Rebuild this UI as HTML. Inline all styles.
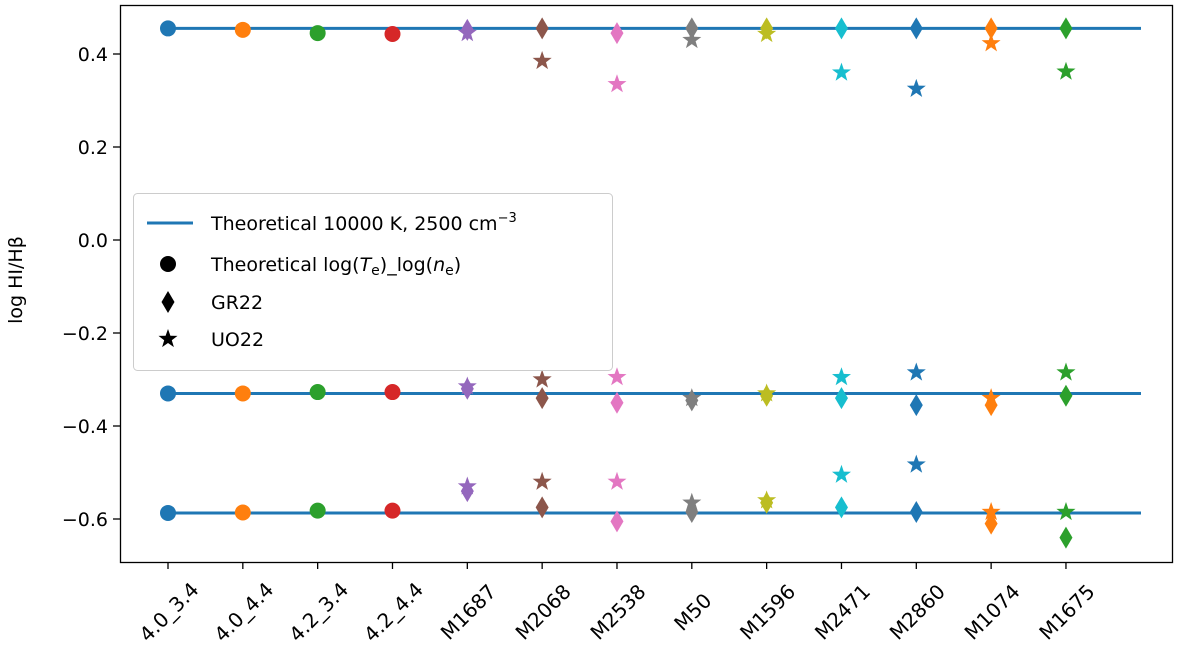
<!DOCTYPE html>
<html><head><meta charset="utf-8"><style>
body{margin:0;background:#fff;}
svg{display:block;font-family:"DejaVu Sans","Liberation Sans",sans-serif;}
</style></head><body>
<svg id="chart" width="1200" height="665"></svg>
<script>
const categories=["4.0_3.4","4.0_4.4","4.2_3.4","4.2_4.4","M1687","M2068","M2538","M50","M1596","M2471","M2860","M1074","M1675"];
const theoryLines=[0.455,-0.33,-0.587];
const circlesTop=[0.455,0.452,0.445,0.443];
const circlesMid=[-0.33,-0.33,-0.327,-0.327];
const circlesBot=[-0.587,-0.586,-0.582,-0.582];
const gr22Top=[0.452,0.455,0.445,0.455,0.455,0.455,0.455,0.455,0.455];
const gr22Mid=[-0.32,-0.34,-0.35,-0.345,-0.335,-0.34,-0.355,-0.355,-0.335];
const gr22Bot=[-0.54,-0.575,-0.605,-0.585,-0.565,-0.575,-0.585,-0.61,-0.64];
const uo22Top=[0.445,0.385,0.335,0.43,0.443,0.36,0.325,0.423,0.362];
const uo22Mid=[-0.315,-0.30,-0.295,-0.34,-0.33,-0.295,-0.285,-0.34,-0.285];
const uo22Bot=[-0.53,-0.52,-0.52,-0.565,-0.56,-0.505,-0.483,-0.585,-0.585];
const yTicks=[0.4,0.2,0.0,-0.2,-0.4,-0.6];
const colors=["#1f77b4","#ff7f0e","#2ca02c","#d62728","#9467bd","#8c564b","#e377c2","#7f7f7f","#bcbd22","#17becf","#1f77b4","#ff7f0e","#2ca02c"];
const NS="http://www.w3.org/2000/svg";
const svg=document.getElementById('chart');
const X=i=>168+i*74.83;
const Y=v=>240-v*465;
function mk(tag,attrs,parent){const e=document.createElementNS(NS,tag);for(const k in attrs)e.setAttribute(k,attrs[k]);(parent||svg).appendChild(e);return e;}
function starPts(cx,cy,r){let p=[];for(let k=0;k<10;k++){const rr=k%2?r*0.4:r;const a=-Math.PI/2+k*Math.PI/5;p.push((cx+rr*Math.cos(a)).toFixed(1)+","+(cy+rr*Math.sin(a)).toFixed(1));}return p.join(" ");}
function diaPts(cx,cy){return `${cx},${cy-11} ${cx+6.5},${cy} ${cx},${cy+11} ${cx-6.5},${cy}`;}
const frame=mk('rect',{x:120.5,y:5.5,width:1052,height:557,fill:'none',stroke:'#000','stroke-width':1.3});


yTicks.forEach(t=>{
  const l=mk('line',{x1:113,x2:120,y1:Y(t),y2:Y(t),stroke:'#000','stroke-width':1.3});
  
  
  const tx=mk('text',{x:108,y:Y(t)+7,'text-anchor':'end','font-size':19});
  tx.textContent=(t<0?"\u2212":"")+Math.abs(t).toFixed(1);
  
  
});
categories.forEach((c,i)=>{
  const l=mk('line',{x1:X(i),x2:X(i),y1:562,y2:569,stroke:'#000','stroke-width':1.3});
  
  
  const cx=X(i)+1, cy=612;
  const tx=mk('text',{x:cx,y:cy+7,'text-anchor':'middle','font-size':20,transform:`rotate(-45 ${cx} ${cy})`});
  tx.textContent=c;
  
  
});
const yl=mk('text',{x:22,y:280,'text-anchor':'middle','font-size':19,transform:'rotate(-90 22 280)'});
yl.textContent="log HI/H\u03b2";


theoryLines.forEach(v=>{
  const l=mk('line',{x1:X(0),x2:1141,y1:Y(v),y2:Y(v),stroke:'#1f77b4','stroke-width':3});
  
  
});
[circlesTop,circlesMid,circlesBot].forEach(arr=>arr.forEach((v,i)=>{
  const c=mk('circle',{cx:X(i),cy:Y(v),r:8,fill:colors[i]});
  
  
}));
[gr22Top,gr22Mid,gr22Bot].forEach(arr=>arr.forEach((v,j)=>{
  const i=j+4;
  const d=mk('polygon',{points:diaPts(X(i),Y(v)),fill:colors[i]});
  
  
}));
[uo22Top,uo22Mid,uo22Bot].forEach(arr=>arr.forEach((v,j)=>{
  const i=j+4;
  const s=mk('polygon',{points:starPts(X(i),Y(v),10),fill:colors[i]});
  
  
}));
const lg=mk('g',{});


mk('rect',{x:133.5,y:193.5,width:479,height:177,rx:4,fill:'#fff','fill-opacity':0.85,stroke:'#ccc'},lg);
mk('line',{x1:147,x2:193,y1:223,y2:223,stroke:'#1f77b4','stroke-width':3},lg);
const t1=mk('text',{x:211,y:230,'font-size':19},lg);
t1.innerHTML='Theoretical 10000 K, 2500 cm<tspan dy="-8" font-size="13">\u22123</tspan>';
mk('circle',{cx:168,cy:264,r:8,fill:'#000'},lg);
const t2=mk('text',{x:211,y:271,'font-size':19},lg);
t2.innerHTML='Theoretical log(<tspan font-style="italic">T</tspan><tspan font-size="14" dy="4">e</tspan><tspan dy="-4">)_log(</tspan><tspan font-style="italic">n</tspan><tspan font-size="14" dy="4">e</tspan><tspan dy="-4">)</tspan>';
mk('polygon',{points:diaPts(168,302),fill:'#000'},lg);
const t3=mk('text',{x:211,y:309,'font-size':19},lg);t3.textContent='GR22';
mk('polygon',{points:starPts(168,339,10),fill:'#000'},lg);
const t4=mk('text',{x:211,y:346,'font-size':19},lg);t4.textContent='UO22';
</script>
</body></html>
